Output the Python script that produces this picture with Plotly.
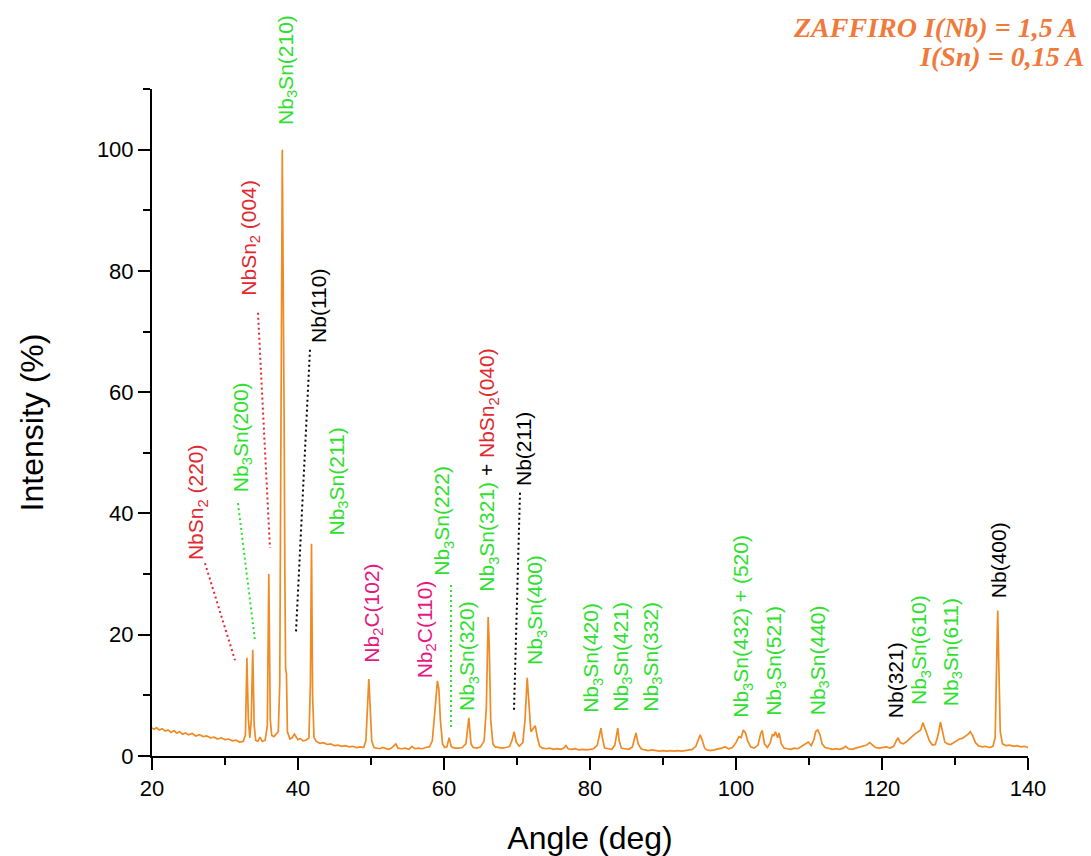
import plotly.graph_objects as go

# Diffraction pattern: scattering angle (deg) and relative intensity (%)
angle = [
    20.0, 20.3, 20.6, 21.0, 21.4, 21.8, 22.2, 22.6, 23.0, 23.4, 23.8, 24.2, 24.6, 25.0, 25.5,
    26.0, 26.5, 27.0, 27.5, 28.0, 28.5, 29.0, 29.5, 30.0, 30.5, 31.0, 31.5, 32.0, 32.5, 32.8,
    33.0, 33.2, 33.4, 33.6, 33.8, 34.0, 34.2, 34.5, 34.8, 35.1, 35.5, 35.8, 36.0, 36.2, 36.4,
    36.7, 37.0, 37.3, 37.5, 37.65, 37.75, 37.85, 37.95, 38.0, 38.1, 38.2, 38.3, 38.42, 38.55,
    38.9, 39.2, 39.5, 39.7, 40.0, 40.3, 40.7, 41.1, 41.5, 41.7, 41.85, 42.0, 42.2, 42.5, 43.0,
    43.5, 44.0, 44.5, 45.0, 45.5, 46.0, 46.5, 47.0, 47.5, 48.0, 48.5, 49.0, 49.3, 49.55, 49.7,
    49.85, 50.1, 50.4, 50.8, 51.2, 51.6, 52.0, 52.4, 52.8, 53.1, 53.4, 53.7, 54.2, 54.7, 55.2,
    55.6, 56.0, 56.5, 57.0, 57.5, 58.0, 58.4, 58.8, 59.1, 59.3, 59.5, 59.8, 60.1, 60.4, 60.7,
    61.0, 61.5, 62.0, 62.5, 63.0, 63.4, 63.7, 64.0, 64.5, 65.0, 65.5, 65.8, 66.05, 66.2, 66.4,
    66.7, 67.0, 67.5, 68.0, 68.5, 69.0, 69.3, 69.6, 69.9, 70.3, 70.8, 71.1, 71.4, 71.7, 71.9,
    72.2, 72.5, 72.8, 73.1, 73.5, 74.0, 74.5, 75.0, 75.5, 76.0, 76.4, 76.7, 77.0, 77.5, 78.0,
    78.5, 79.0, 79.5, 80.0, 80.5, 81.0, 81.3, 81.5, 81.7, 82.0, 82.5, 83.0, 83.4, 83.65, 83.8,
    84.0, 84.3, 84.8, 85.3, 85.8, 86.1, 86.3, 86.6, 87.0, 87.5, 88.0, 88.5, 89.0, 89.5, 90.0,
    90.5, 91.0, 91.5, 92.0, 92.5, 93.0, 93.5, 94.0, 94.5, 94.9, 95.1, 95.4, 95.7, 96.0, 96.5,
    97.0, 97.5, 98.0, 98.5, 99.0, 99.5, 100.0, 100.4, 100.7, 101.0, 101.3, 101.6, 102.0, 102.5,
    103.0, 103.4, 103.6, 103.9, 104.3, 104.7, 105.0, 105.2, 105.4, 105.7, 105.9, 106.2, 106.6,
    107.0, 107.5, 108.0, 108.5, 109.0, 109.5, 109.9, 110.3, 110.7, 110.9, 111.2, 111.5, 111.8,
    112.2, 112.7, 113.2, 113.7, 114.2, 114.7, 115.0, 115.4, 115.9, 116.4, 116.9, 117.4, 117.9,
    118.3, 118.7, 119.1, 119.6, 120.1, 120.6, 121.1, 121.6, 122.0, 122.2, 122.5, 122.9, 123.3,
    123.7, 124.1, 124.5, 124.9, 125.3, 125.6, 125.9, 126.2, 126.5, 126.9, 127.3, 127.7, 128.0,
    128.3, 128.6, 129.0, 129.4, 129.8, 130.2, 130.6, 131.0, 131.4, 131.8, 132.1, 132.4, 132.8,
    133.2, 133.7, 134.2, 134.7, 135.2, 135.5, 135.7, 135.85, 136.0, 136.2, 136.5, 137.0, 137.5,
    138.0, 138.5, 139.0, 139.5, 140.0,
]
intensity = [
    4.6, 4.4, 4.7, 4.3, 4.5, 4.1, 4.3, 3.9, 4.2, 3.8, 4.0, 3.6, 3.8, 3.5, 3.7,
    3.3, 3.5, 3.2, 3.3, 3.0, 3.1, 2.8, 3.0, 2.7, 2.8, 2.5, 2.6, 2.3, 2.4, 3.5,
    16.2, 6.0, 3.0, 6.0, 17.5, 5.0, 2.6, 2.4, 3.1, 2.4, 2.6, 5.0, 30.0, 6.0, 3.4,
    3.2, 3.6, 4.0, 12.0, 45.0, 85.0, 100.0, 82.0, 60.0, 56.0, 30.0, 14.5, 13.5, 4.0,
    2.8, 3.0, 3.6, 3.2, 2.7, 2.9, 2.5, 2.6, 3.0, 12.0, 35.0, 10.0, 3.0, 2.4, 2.1,
    2.2, 1.9, 2.0, 1.7, 1.8, 1.6, 1.7, 1.5, 1.6, 1.4, 1.5, 1.4, 2.5, 9.0, 12.7,
    9.0, 2.5, 1.4, 1.3, 1.2, 1.4, 1.3, 1.1, 1.3, 1.6, 2.0, 1.3, 1.2, 1.3, 1.1,
    1.6, 1.2, 1.3, 1.2, 1.4, 1.5, 2.5, 8.0, 12.4, 11.0, 6.0, 2.0, 1.4, 1.5, 3.0,
    1.5, 1.3, 1.3, 1.4, 2.0, 6.3, 2.0, 1.4, 1.3, 1.5, 2.5, 8.0, 22.9, 18.0, 6.0,
    2.0, 1.5, 1.4, 1.3, 1.4, 1.6, 2.5, 4.0, 2.3, 1.6, 2.2, 6.0, 12.9, 7.0, 4.0,
    4.5, 5.0, 3.0, 1.6, 1.3, 1.2, 1.3, 1.1, 1.2, 1.1, 1.3, 1.7, 1.2, 1.1, 1.2,
    1.0, 1.1, 1.0, 1.1, 1.2, 1.8, 3.5, 4.6, 3.0, 1.3, 1.2, 1.1, 1.8, 4.0, 4.6,
    2.5, 1.3, 1.2, 1.1, 1.5, 3.2, 3.8, 2.0, 1.2, 1.0, 0.9, 1.0, 0.9, 0.8, 0.9,
    0.8, 0.9, 0.8, 0.9, 0.8, 0.9, 1.0, 1.1, 1.6, 3.0, 3.5, 2.5, 1.3, 1.0, 0.9,
    1.0, 1.1, 1.3, 1.5, 1.2, 1.4, 2.2, 3.2, 3.0, 4.3, 3.8, 2.5, 1.5, 1.3,
    1.8, 3.8, 4.2, 2.0, 1.4, 2.2, 3.6, 3.3, 4.0, 3.0, 3.8, 2.0, 1.3,
    1.2, 1.1, 1.3, 1.2, 1.6, 2.0, 2.3, 1.7, 2.8, 4.0, 4.3, 3.5, 2.0,
    1.4, 1.2, 1.1, 1.2, 1.1, 1.3, 1.6, 1.2, 1.1, 1.3, 1.5, 1.6, 1.8,
    2.2, 1.8, 1.4, 1.3, 1.4, 1.5, 1.3, 1.6, 2.6, 3.0, 2.2, 2.0, 2.3,
    2.8, 3.2, 3.6, 4.0, 4.3, 5.5, 4.5, 3.6, 2.5, 1.8, 1.9, 3.5, 5.6,
    4.0, 2.3, 2.0, 1.9, 2.2, 2.5, 2.8, 2.9, 3.2, 3.6, 4.0, 3.4, 2.2,
    1.7, 1.5, 1.6, 1.4, 1.6, 3.0, 16.0, 24.0, 15.0, 4.0, 2.0, 1.7, 1.8,
    1.6, 1.7, 1.5, 1.6, 1.4,
]

# Axis ticks
x_ticks = [20, 40, 60, 80, 100, 120, 140]
y_ticks = [0, 20, 40, 60, 80, 100]

# Phase colours
GREEN = "#2fe02f"
RED = "#e02a2f"
MAGENTA = "#e6187f"
BLACK = "#000000"

# Reflection labels: (text, angle, intensity at label start, colour)
peak_labels = [
    ("NbSn<sub>2</sub> (220)", 26.18, 32.0, RED),
    ("Nb<sub>3</sub>Sn(200)", 32.34, 43.2, GREEN),
    ("NbSn<sub>2</sub> (004)", 33.30, 75.6, RED),
    ("Nb(110)", 42.88, 67.8, BLACK),
    ("Nb<sub>3</sub>Sn(210)", 38.40, 103.8, GREEN),
    ("Nb<sub>3</sub>Sn(211)", 45.45, 36.0, GREEN),
    ("Nb<sub>2</sub>C(102)", 50.15, 15.0, MAGENTA),
    ("Nb<sub>2</sub>C(110)", 57.55, 12.5, MAGENTA),
    ("Nb<sub>3</sub>Sn(222)", 59.87, 29.4, GREEN),
    ("Nb<sub>3</sub>Sn(320)", 63.30, 7.1, GREEN),
    (f"<span style='color:{GREEN}'>Nb<sub>3</sub>Sn(321)</span> + "
     f"<span style='color:{RED}'>NbSn<sub>2</sub>(040)</span>", 66.04, 26.7, BLACK),
    ("Nb(211)", 70.96, 44.2, BLACK),
    ("Nb<sub>3</sub>Sn(400)", 72.61, 14.7, GREEN),
    ("Nb<sub>3</sub>Sn(420)", 80.28, 6.8, GREEN),
    ("Nb<sub>3</sub>Sn(421)", 84.26, 7.0, GREEN),
    ("Nb<sub>3</sub>Sn(332)", 88.37, 7.0, GREEN),
    ("Nb<sub>3</sub>Sn(432) + (520)", 100.83, 5.9, GREEN),
    ("Nb<sub>3</sub>Sn(521)", 105.35, 6.3, GREEN),
    ("Nb<sub>3</sub>Sn(440)", 111.38, 6.4, GREEN),
    ("Nb(321)", 121.78, 5.9, BLACK),
    ("Nb<sub>3</sub>Sn(610)", 125.22, 8.1, GREEN),
    ("Nb<sub>3</sub>Sn(611)", 129.60, 7.9, GREEN),
    ("Nb(400)", 135.89, 25.7, BLACK),
]

# Dotted leader lines from a label to its reflection: (x0, y0, x1, y1, colour)
leaders = [
    (27.26, 31.8, 31.37, 15.8, RED),
    (31.78, 41.7, 34.10, 19.1, GREEN),
    (34.52, 73.1, 36.16, 34.3, RED),
    (41.64, 67.0, 39.73, 20.5, BLACK),
    (60.96, 28.2, 60.96, 4.3, GREEN),
    (70.41, 43.4, 69.59, 7.6, BLACK),
]

SANS = "Liberation Sans, Arial, sans-serif"
SERIF = "Liberation Serif, Times New Roman, serif"
LINE_COLOUR = "#f08a24"
TITLE_COLOUR = "#f07a3c"

fig = go.Figure()
fig.add_trace(go.Scatter(
    x=angle, y=intensity, mode="lines",
    line=dict(color=LINE_COLOUR, width=1.7),
    showlegend=False, hoverinfo="x+y",
))

annotations = []
for text, x, y, colour in peak_labels:
    annotations.append(dict(
        text=text, x=x, y=y, xref="x", yref="y",
        xanchor="center", yanchor="bottom", textangle=-90,
        showarrow=False, font=dict(family=SANS, size=21, color=colour),
    ))

annotations += [
    dict(text="<b><i>ZAFFIRO I(Nb) = 1,5 A</i></b>", xref="paper", yref="paper",
         x=1.058, y=1.092, xanchor="right", yanchor="middle", showarrow=False,
         font=dict(family=SERIF, size=28, color=TITLE_COLOUR)),
    dict(text="<b><i>I(Sn) = 0,15 A</i></b>", xref="paper", yref="paper",
         x=1.066, y=1.048, xanchor="right", yanchor="middle", showarrow=False,
         font=dict(family=SERIF, size=28, color=TITLE_COLOUR)),
]

shapes = [
    dict(type="line", xref="x", yref="y", x0=x0, y0=y0, x1=x1, y1=y1,
         line=dict(color=colour, width=2, dash="2px,3px"))
    for x0, y0, x1, y1, colour in leaders
]

axis_common = dict(
    showline=True, linecolor="black", linewidth=2, mirror=False,
    ticks="outside", ticklen=12, tickwidth=2, tickcolor="black",
    showgrid=False, zeroline=False, automargin=False,
    tickfont=dict(family=SANS, size=22, color="black"),
)

fig.update_layout(
    width=1091, height=856,
    margin=dict(l=152, r=63, t=89, b=100),
    paper_bgcolor="white", plot_bgcolor="white",
    xaxis=dict(
        range=[20, 140], tickmode="array", tickvals=x_ticks,
        minor=dict(dtick=10, tick0=20, ticks="outside", ticklen=7, tickwidth=2, tickcolor="black"),
        title=dict(text="Angle (deg)", font=dict(family=SANS, size=32, color="black"), standoff=26),
        **axis_common,
    ),
    yaxis=dict(
        range=[0, 110], tickmode="array", tickvals=y_ticks,
        minor=dict(dtick=10, tick0=0, ticks="outside", ticklen=7, tickwidth=2, tickcolor="black"),
        title=dict(text="Intensity (%)", font=dict(family=SANS, size=32, color="black"), standoff=44),
        **axis_common,
    ),
    annotations=annotations,
    shapes=shapes,
)

fig.write_html("out.html")
